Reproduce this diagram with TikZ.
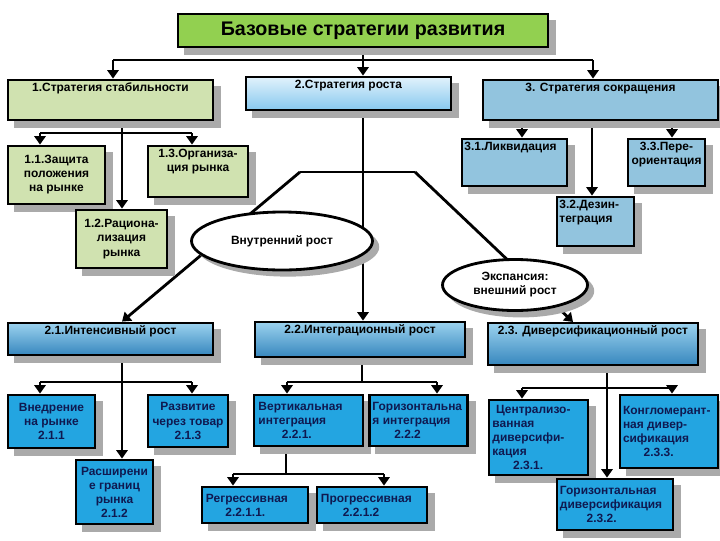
\documentclass[tikz,border=0pt]{standalone}
\usepackage{fontspec}
\setmainfont{Liberation Sans}
\usepackage{tikz}
\usetikzlibrary{shapes, arrows.meta, calc, positioning}
\setlength{\parindent}{0pt}
\hyphenpenalty=10000
\definecolor{titlegreen}{RGB}{146,208,80}
\definecolor{palegreen}{RGB}{208,226,176}
\definecolor{paleblue}{RGB}{225,242,252}
\definecolor{skyblue}{RGB}{135,200,238}
\definecolor{steelblue}{RGB}{146,196,222}
\definecolor{rowtop}{RGB}{155,210,238}
\definecolor{rowbot}{RGB}{55,135,190}
\definecolor{leafblue}{RGB}{35,165,225}
\definecolor{navy}{RGB}{15,25,80}
\definecolor{shadowgrey}{RGB}{170,170,170}
\pgfdeclarelayer{bg}
\pgfdeclarelayer{shade}
\pgfsetlayers{bg,shade,main}
\tikzstyle{box} = [rectangle, draw=black, line width=2pt, align=center, inner sep=2pt, font=\fontsize{8.5}{10}\selectfont\bfseries]
\tikzstyle{ell} = [ellipse, draw=black, line width=2pt, fill=white, align=center, inner sep=0pt, font=\fontsize{8.5}{10}\selectfont\bfseries]
\tikzstyle{leaf} = [box, fill=leafblue, text=navy, font=\fontsize{8.5}{10}\selectfont\bfseries]
\tikzstyle{line} = [line width=2pt]
\tikzstyle{arrow} = [line width=2pt, -{Triangle[length=6pt, width=8pt]}]
\tikzset{
    wh/.style 2 args={minimum width=#1*0.025cm, minimum height=#2*0.025cm},
    toptext/.style={label={[anchor=north, yshift=-2pt, inner sep=1pt, align=center, font=\fontsize{8.5}{10}\selectfont\bfseries]north:{#1}}},
    topleft/.style={label={[anchor=north west, xshift=1.5pt, yshift=-2pt, inner sep=1pt, align=left, font=\fontsize{8.5}{10}\selectfont\bfseries]north west:{#1}}}
}

\begin{document}
\begin{tikzpicture}[x=0.025cm, y=-0.025cm]
    \useasboundingbox (0,0) rectangle (720,540);
    \node (T) [box, wh={370}{33}, fill=titlegreen, font=\fontsize{14}{16}\selectfont\bfseries] at (363,30.5) {Базовые стратегии развития};
    \node (S1) [box, wh={205}{40}, fill=palegreen, toptext={1.Стратегия стабильности}] at (110.5,100) {};
    \node (S2) [box, wh={205}{33}, top color=paleblue, bottom color=skyblue, toptext={2.Стратегия роста}] at (348.5,93.5) {};
    \node (S3) [box, wh={235}{40}, fill=steelblue, toptext={3. Стратегия сокращения}] at (600.5,100) {};
    \node (S11) [box, wh={97}{58}, fill=palegreen] at (56.5,175) {1.1.Защита\\положения\\на рынке};
    \node (S13) [box, wh={100}{51}, fill=palegreen, toptext={1.3.Организа-\\ция рынка}] at (198,171.5) {};
    \node (S12) [box, wh={91}{58}, fill=palegreen] at (121.5,239) {1.2.Рациона-\\лизация\\рынка};
    \node (S31) [box, wh={105}{47}, fill=steelblue, topleft={3.1.Ликвидация}] at (514.5,162.5) {};
    \node (S33) [box, wh={77}{47}, fill=steelblue, toptext={3.3.Пере-\\ориентация}] at (666.5,162.5) {};
    \node (S32) [box, wh={77}{49}, fill=steelblue, topleft={3.2.Дезин-\\теграция}] at (595.5,221.5) {};
    \node (G1) [box, wh={205}{32}, top color=rowtop, bottom color=rowbot, toptext={2.1.Интенсивный рост}] at (110.5,339) {};
    \node (G2) [box, wh={210}{35}, top color=rowtop, bottom color=rowbot, toptext={2.2.Интеграционный рост}] at (360,339.5) {};
    \node (G3) [box, wh={210}{42}, top color=rowtop, bottom color=rowbot, toptext={2.3. Диверсификационный рост}] at (593,344) {};
    \node (L211) [leaf, wh={87}{53}] at (51.5,421.5) {Внедрение\\на рынке\\2.1.1};
    \node (L213) [leaf, wh={80}{52}] at (188,421) {Развитие\\через товар\\2.1.3};
    \node (L212) [leaf, wh={77}{64}] at (114.5,492) {Расширени\\е границ\\рынка\\2.1.2};
    \node (L221) [leaf, wh={109}{51}, align=flush left, text width=2.5cm] at (308.5,420.5) {Вертикальная\\интеграция\\\leavevmode\hfil 2.2.1.};
    \node (L222) [leaf, wh={97}{51}, align=flush left, text width=2.3cm] at (418.5,420.5) {Горизонтальна\\я интеграция\\\leavevmode\hfil 2.2.2};
    \node (L2211) [leaf, wh={106}{36}, align=flush left, text width=2.45cm] at (255,505) {Регрессивная\\\leavevmode\hfil 2.2.1.1.};
    \node (L2212) [leaf, wh={110}{36}, align=flush left, text width=2.55cm] at (372,505) {Прогрессивная\\\leavevmode\hfil 2.2.1.2};
    \node (L231) [leaf, wh={99}{75}, align=flush left, text width=2.3cm] at (538.5,437.5) {\hspace*{0.3em}Централизо-\\ванная\\диверсифи-\\кация\\\leavevmode\hfil 2.3.1.};
    \node (L233) [leaf, wh={98}{73}, align=flush left, text width=2.3cm] at (669,431.5) {Конгломерант-\\ная дивер-\\сификация\\\leavevmode\hfil 2.3.3.};
    \node (L232) [leaf, wh={116}{51}, align=flush left, text width=2.75cm] at (615,504.5) {Горизонтальная\\диверсификация\\\leavevmode\hfil 2.3.2.};
    \node (E1) [ell, wh={181}{58}] at (282,241) {Внутренний рост};
    \node (E2) [ell, wh={145}{51}] at (515,285) {Экспансия:\\внешний рост};
    \coordinate (t0) at (363,60);
    \coordinate (t1) at (113,60);
    \coordinate (t3) at (593,60);
    \coordinate (s1) at (122,133);
    \coordinate (s1l) at (40,133);
    \coordinate (s1r) at (192,133);
    \coordinate (s3) at (592,127);
    \coordinate (s3l) at (522,127);
    \coordinate (s3r) at (672,127);
    \coordinate (d1) at (300,172);
    \coordinate (d2) at (415,172);
    \coordinate (d3) at (573,322);
    \coordinate (g1) at (122,382);
    \coordinate (g1l) at (40,382);
    \coordinate (g1r) at (192,382);
    \coordinate (g2) at (362,382);
    \coordinate (g2l) at (287,382);
    \coordinate (g2r) at (437,382);
    \coordinate (v1) at (286,474);
    \coordinate (v1l) at (233,474);
    \coordinate (v1r) at (384,474);
    \coordinate (g3) at (607,388);
    \coordinate (g3l) at (522,388);
    \coordinate (g3r) at (672,388);
    \begin{pgfonlayer}{shade}
    \foreach \n in {T,S1,S2,S3,S11,S12,S13,S31,S32,S33,G1,G2,G3,L211,L212,L213,L221,L222,L2211,L2212,L231,L232,L233}
        \fill [shadowgrey] ($(\n.south west)+(7,7)$) rectangle ($(\n.north east)+(7,7)$);
    \fill [shadowgrey] ($(E1.center)+(6,6)$) ellipse [x radius=2.28cm, y radius=0.74cm];
    \fill [shadowgrey] ($(E2.center)+(6,6)$) ellipse [x radius=1.83cm, y radius=0.66cm];
    \end{pgfonlayer}
    \begin{pgfonlayer}{bg}
    \fill [white] (0,0) rectangle (720,540);
    \draw [line] (T.south) -- (t0);
    \draw [line] (t1) -- (t3);
    \draw [arrow] (t1) -- (t1 |- S1.north);
    \draw [arrow] (t0) -- (t0 |- S2.north);
    \draw [arrow] (t3) -- (t3 |- S3.north);
    \draw [arrow] (S1.south -| s1) -- (s1 |- S12.north);
    \draw [line] (s1l) -- (s1r);
    \draw [arrow] (s1l) -- (s1l |- S11.north);
    \draw [arrow] (s1r) -- (s1r |- S13.north);
    \draw [arrow] (S3.south -| s3) -- (s3 |- S32.north);
    \draw [line] (s3l) -- (s3r);
    \draw [arrow] (s3l) -- (s3l |- S31.north);
    \draw [arrow] (s3r) -- (s3r |- S33.north);
    \draw [arrow] (S2.south -| t0) -- (t0 |- G2.north);
    \draw [line] (d1) -- (d2);
    \draw [arrow] (d1) -- (g1 |- G1.north);
    \draw [arrow] (d2) -- (d3);
    \draw [arrow] (G1.south -| g1) -- (g1 |- L212.north);
    \draw [line] (g1l) -- (g1r);
    \draw [arrow] (g1l) -- (g1l |- L211.north);
    \draw [arrow] (g1r) -- (g1r |- L213.north);
    \draw [line] (G2.south -| g2) -- (g2);
    \draw [line] (g2l) -- (g2r);
    \draw [arrow] (g2l) -- (g2l |- L221.north);
    \draw [arrow] (g2r) -- (g2r |- L222.north);
    \draw [line] (L221.south -| v1) -- (v1);
    \draw [line] (v1l) -- (v1r);
    \draw [arrow] (v1l) -- (v1l |- L2211.north);
    \draw [arrow] (v1r) -- (v1r |- L2212.north);
    \draw [arrow] (G3.south -| g3) -- (g3 |- L232.north);
    \draw [line] (g3l) -- (g3r);
    \draw [arrow] (g3l) -- (g3l |- L231.north);
    \draw [arrow] (g3r) -- (g3r |- L233.north);
    \end{pgfonlayer}
\end{tikzpicture}
\end{document}
